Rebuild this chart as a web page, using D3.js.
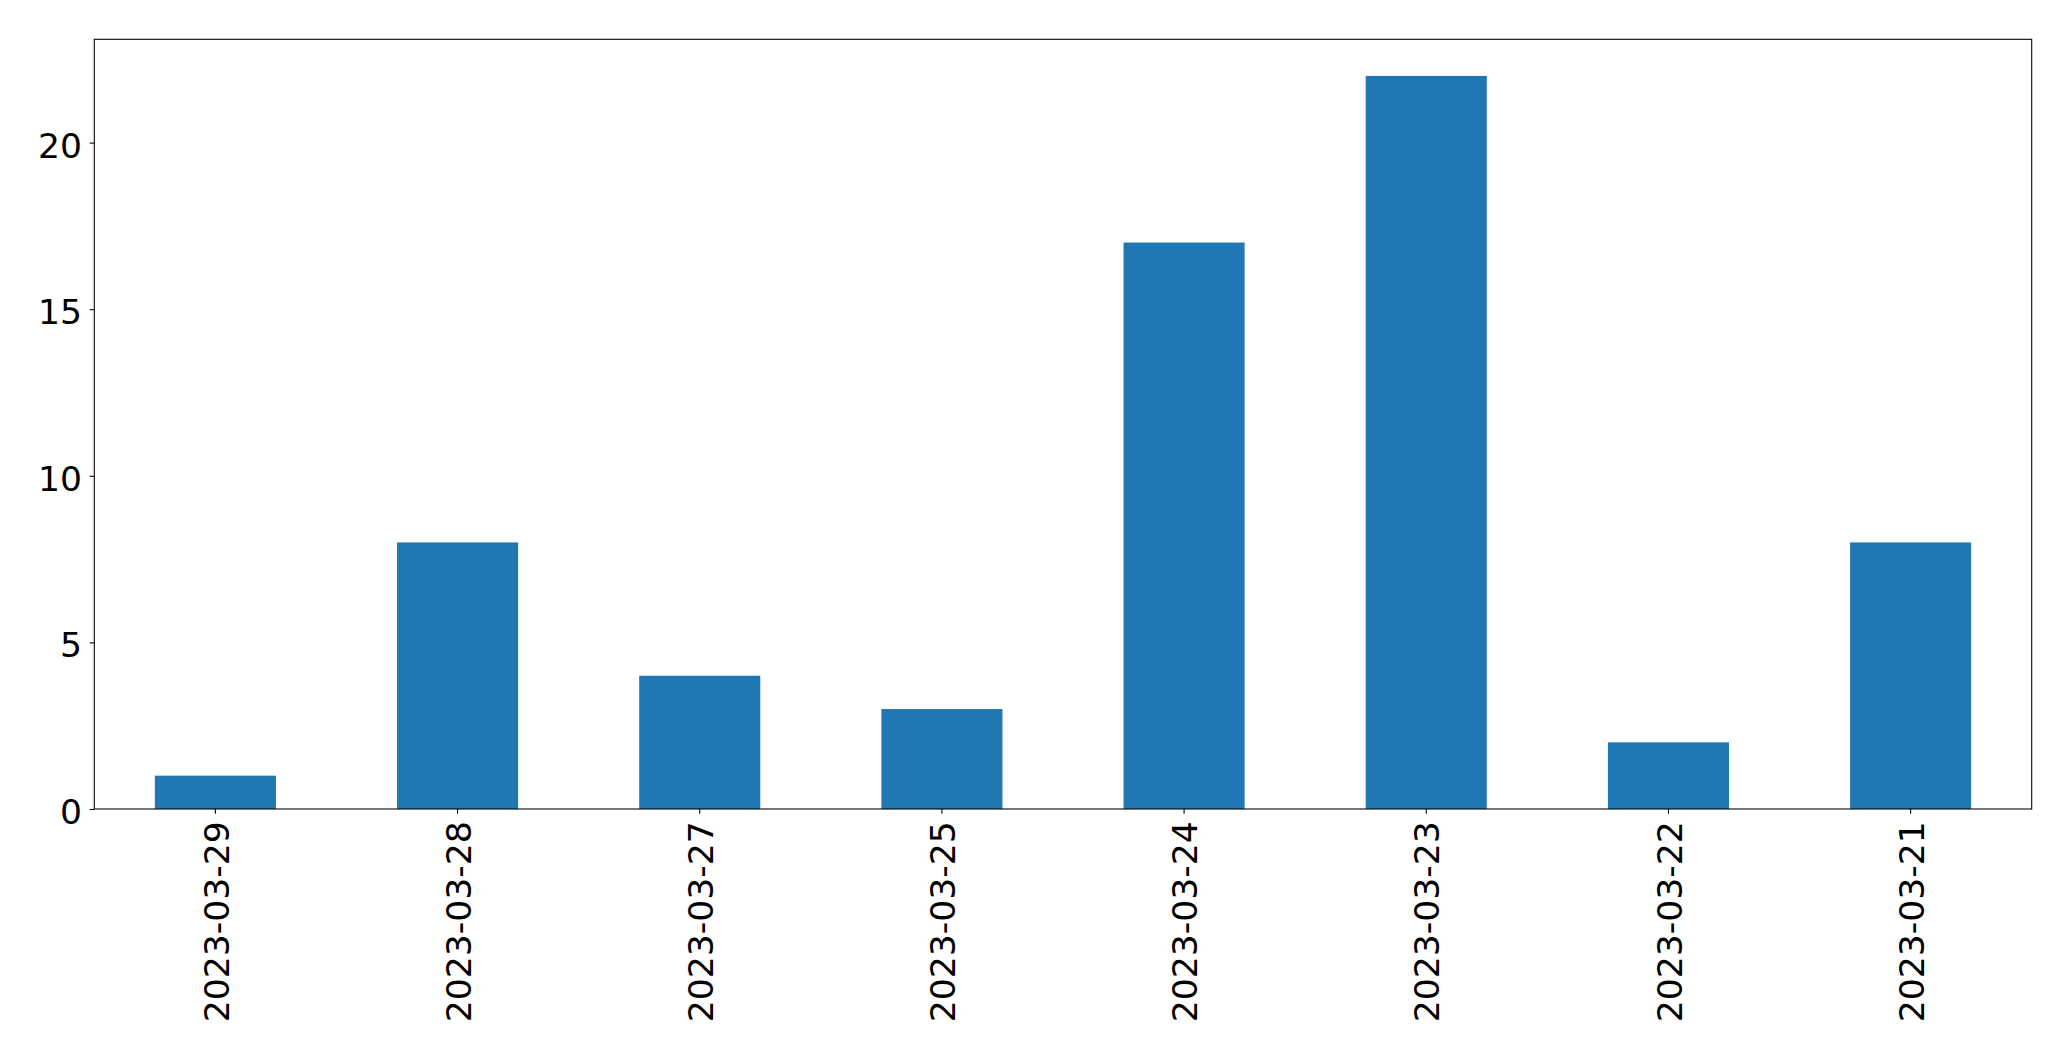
<!DOCTYPE html>
<html>
<head>
<meta charset="utf-8">
<script src="https://cdn.jsdelivr.net/npm/d3@7"></script>
<style>
  html, body { margin: 0; padding: 0; background: #fff; }
  svg { display: block; }
  text { font-family: "DejaVu Sans", sans-serif; fill: #000; }
</style>
</head>
<body>
<script>
const categories = ["2023-03-29", "2023-03-28", "2023-03-27", "2023-03-25", "2023-03-24", "2023-03-23", "2023-03-22", "2023-03-21"];
const values = [1, 8, 4, 3, 17, 22, 2, 8];
const yTicks = [0, 5, 10, 15, 20];

const W = 2071, H = 1061;
const margin = { left: 94.3, right: W - 2031.7, top: 39.3, bottom: H - 809 };
const fontPx = 34.6;
const tickLen = 4.67, pad = 4.67;

const svg = d3.select("body").append("svg").attr("width", W).attr("height", H);

const x = d3.scaleBand().domain(categories).range([margin.left, W - margin.right]).paddingInner(0.5).paddingOuter(0.25);
const y = d3.scaleLinear().domain([0, d3.max(values) * 1.05]).range([H - margin.bottom, margin.top]);

svg.append("g").selectAll("rect").data(values).join("rect")
  .attr("x", (d, i) => x(categories[i]))
  .attr("width", x.bandwidth())
  .attr("y", d => y(d))
  .attr("height", d => y(0) - y(d))
  .attr("fill", "#1f77b4");

// Y axis
const yAxis = d3.axisLeft(y).tickValues(yTicks).tickSize(tickLen).tickPadding(pad);
const gy = svg.append("g").attr("transform", `translate(${margin.left},0)`).call(yAxis);
gy.select(".domain").remove();
gy.selectAll(".tick line").attr("stroke", "#000").attr("stroke-width", 1.07);
gy.selectAll(".tick text").attr("font-size", fontPx).attr("dy", "0.42em").attr("x", -(tickLen + pad + 3));

// X axis
const xAxis = d3.axisBottom(x).tickSize(tickLen).tickPadding(pad);
const gx = svg.append("g").attr("transform", `translate(0,${H - margin.bottom})`).call(xAxis);
gx.select(".domain").remove();
gx.selectAll(".tick line").attr("stroke", "#000").attr("stroke-width", 1.07);
gx.selectAll(".tick text")
  .attr("font-size", fontPx)
  .attr("transform", "rotate(-90)")
  .attr("text-anchor", "end")
  .attr("x", -(tickLen + pad + 3))
  .attr("y", 0)
  .attr("dy", "0.38em");

// Frame
svg.append("rect")
  .attr("x", margin.left).attr("y", margin.top)
  .attr("width", W - margin.right - margin.left)
  .attr("height", H - margin.bottom - margin.top)
  .attr("fill", "none").attr("stroke", "#000").attr("stroke-width", 1.07);
</script>
</body>
</html>
